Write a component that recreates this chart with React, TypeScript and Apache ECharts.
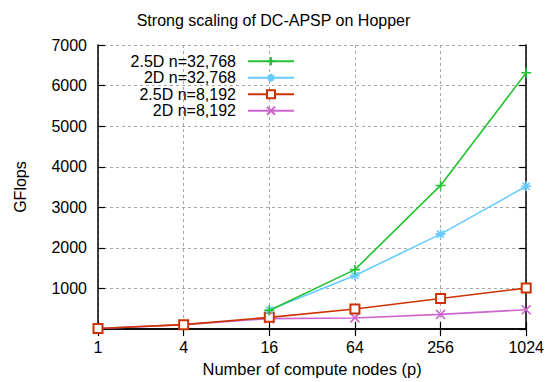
import React, { useEffect, useRef } from "react";
import * as echarts from "echarts";

const nodes = [1, 4, 16, 64, 256, 1024];
const seriesNames = ["2.5D n=32,768", "2D n=32,768", "2.5D n=8,192", "2D n=8,192"];
const green25D32k = [null, null, 460, 1465, 3540, 6315];
const blue2D32k = [null, null, 470, 1320, 2340, 3520];
const red25D8k = [15, 110, 290, 495, 755, 1010];
const purple2D8k = [15, 110, 258, 275, 362, 478];
const yTicks = [0, 1000, 2000, 3000, 4000, 5000, 6000, 7000];

const FONT = "'Liberation Sans', Arial, Helvetica, sans-serif";
const colors = ["#22c232", "#66ccff", "#cc3300", "#cc66cc"];
const symbols = [
  "path://M0,5L10,5M5,0L5,10",
  "path://M0,5L10,5M5,0L5,10M1.5,1.5L8.5,8.5M1.5,8.5L8.5,1.5",
  "emptyRect",
  "path://M0,0L10,10M0,10L10,0",
];
const symbolSizes = [10, 10, 9, 9];

function pairs(vals: (number | null)[]) {
  const out: [number, number][] = [];
  vals.forEach((v, i) => {
    if (v !== null) out.push([nodes[i], v]);
  });
  return out;
}

export default function App() {
  const ref = useRef<HTMLDivElement>(null);
  useEffect(() => {
    if (!ref.current) return;
    const chart = echarts.init(ref.current, undefined, { renderer: "svg" });
    const data = [green25D32k, blue2D32k, red25D8k, purple2D8k];
    const gridLine = { show: true, lineStyle: { color: "#a8a8a8", type: [3, 3] as any, width: 1 } };
    const axisLine = { show: true, lineStyle: { color: "#000", width: 1.5 } };
    const tick = { show: true, inside: true, length: 7, lineStyle: { color: "#000", width: 1.2 } };
    chart.setOption({
      animation: false,
      backgroundColor: "#fff",
      textStyle: { fontFamily: FONT },
      title: {
        text: "Strong scaling of DC-APSP on Hopper",
        left: "center",
        top: 12,
        padding: 0,
        textStyle: { fontFamily: FONT, fontSize: 16, fontWeight: "normal", color: "#000" },
      },
      legend: {
        orient: "vertical",
        align: "right",
        right: 252,
        top: 53,
        padding: 0,
        itemGap: 0,
        itemWidth: 46,
        itemHeight: 10,
        data: seriesNames,
        textStyle: { fontFamily: FONT, fontSize: 16, color: "#000", lineHeight: 16.5, padding: [0, 7, 0, 0] },
      },
      grid: { left: 98, right: 20, top: 45, bottom: 51.5 },
      xAxis: [
        {
          type: "log",
          logBase: 4,
          min: 1,
          max: 1024,
          position: "bottom",
          axisLine,
          axisTick: tick,
          splitLine: gridLine,
          axisLabel: {
            fontFamily: FONT,
            fontSize: 16,
            color: "#000",
            margin: 10,
            formatter: (v: number) => String(Math.round(v)),
          },
          name: "Number of compute nodes (p)",
          nameLocation: "middle",
          nameGap: 30,
          nameTextStyle: { fontFamily: FONT, fontSize: 16.5, color: "#000" },
        },
        {
          type: "log",
          logBase: 4,
          min: 1,
          max: 1024,
          position: "top",
          axisLine,
          axisTick: tick,
          splitLine: { show: false },
          axisLabel: { show: false },
        },
      ],
      yAxis: [
        {
          type: "value",
          min: 0,
          max: 7000,
          interval: 1000,
          position: "left",
          axisLine,
          axisTick: tick,
          splitLine: gridLine,
          axisLabel: {
            fontFamily: FONT,
            fontSize: 16,
            color: "#000",
            margin: 11,
            formatter: (v: number) => (v === yTicks[0] ? "" : String(v)),
          },
          name: "GFlops",
          nameLocation: "middle",
          nameGap: 70,
          nameTextStyle: { fontFamily: FONT, fontSize: 16, color: "#000" },
        },
        {
          type: "value",
          min: 0,
          max: 7000,
          interval: 1000,
          position: "right",
          axisLine,
          axisTick: tick,
          splitLine: { show: false },
          axisLabel: { show: false },
        },
      ],
      series: seriesNames.map((name, i) => ({
        name,
        type: "line",
        xAxisIndex: 0,
        yAxisIndex: 0,
        data: pairs(data[i]),
        symbol: symbols[i],
        symbolSize: symbolSizes[i],
        showAllSymbol: true,
        lineStyle: { color: colors[i], width: 1.6 },
        itemStyle: { color: colors[i], borderColor: colors[i], borderWidth: 1.6 },
        z: 10 - i,
      })),
    });
    return () => chart.dispose();
  }, []);
  return (
    <div
      ref={ref}
      style={{ position: "fixed", left: 0, top: 0, width: 547, height: 382 }}
    />
  );
}
